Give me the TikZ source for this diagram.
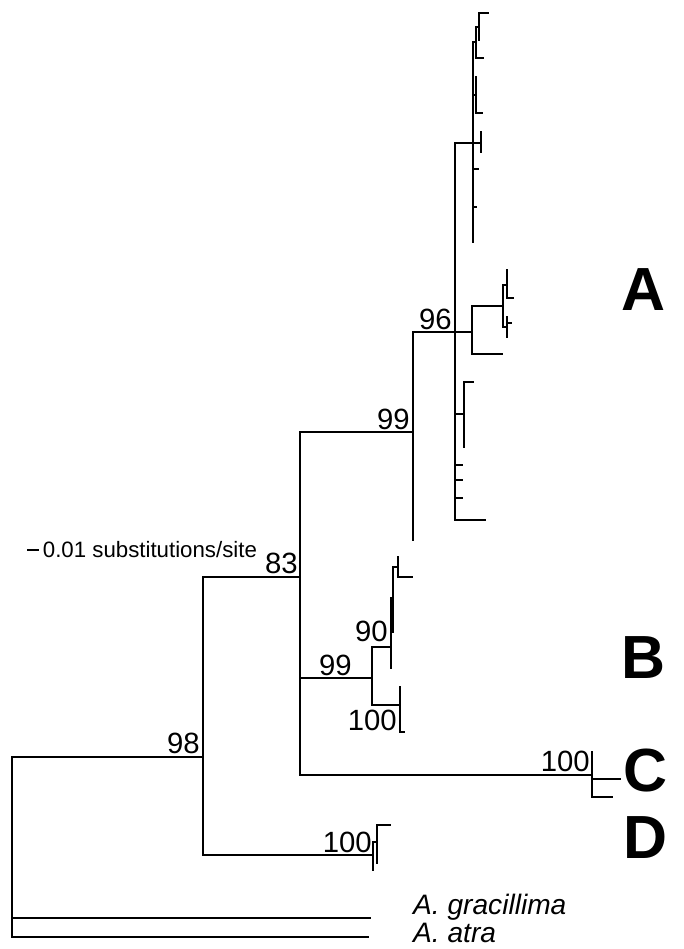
\documentclass[tikz,border=0pt]{standalone}
\usepackage{fontspec}
\setmainfont{Liberation Sans}
\usetikzlibrary{positioning}
\tikzstyle{branch} = [line width=0.9pt, line cap=rect]
\tikzstyle{support} = [inner sep=0pt, font=\fontsize{25}{25}\selectfont]
\tikzstyle{clade} = [inner sep=0pt, font=\fontsize{52}{52}\selectfont\bfseries]
\tikzstyle{taxon} = [inner sep=0pt, anchor=base west, font=\fontsize{24}{24}\selectfont\itshape]
\tikzstyle{scaletext} = [inner sep=0pt, anchor=west, font=\fontsize{19}{19}\selectfont]

\begin{document}
\begin{tikzpicture}[x=0.03cm, y=-0.03cm]
        \useasboundingbox (0,0) rectangle (684,949);
        % internal nodes
        \coordinate (root) at (12,757);
        \coordinate (n98) at (203,757);
        \coordinate (n83) at (300,577);
        \coordinate (nA) at (413,432);
        \coordinate (n96) at (455,332);
        \coordinate (nA1) at (473,143);
        \coordinate (nA1a) at (476,42);
        \coordinate (nA1b) at (479,27);
        \coordinate (nA1c) at (476,95);
        \coordinate (nA1d) at (481,143);
        \coordinate (nA2) at (472,332);
        \coordinate (nA2a) at (503,306);
        \coordinate (nA2b) at (507,285);
        \coordinate (nA2c) at (507,327);
        \coordinate (nA3) at (464,414);
        \coordinate (nB) at (372,678);
        \coordinate (n90) at (391,647);
        \coordinate (nB1) at (393,598);
        \coordinate (nB2) at (398,567);
        \coordinate (nB100) at (400,705);
        \coordinate (nC) at (592,775);
        \coordinate (nD) at (373,855);
        \coordinate (nD1) at (377,842);
        % leaves of clade A
        \coordinate (a1) at (488,13);
        \coordinate (a2) at (479,40);
        \coordinate (a3) at (483,58);
        \coordinate (a4) at (476,77);
        \coordinate (a5) at (482,113);
        \coordinate (a6) at (481,132);
        \coordinate (a7) at (481,152);
        \coordinate (a8) at (478,169);
        \coordinate (a9) at (476,207);
        \coordinate (a10) at (473,242);
        \coordinate (a11) at (507,270);
        \coordinate (a12) at (513,298);
        \coordinate (a13) at (507,317);
        \coordinate (a14) at (511,323);
        \coordinate (a15) at (507,337);
        \coordinate (a16) at (502,354);
        \coordinate (a17) at (473,382);
        \coordinate (a18) at (464,447);
        \coordinate (a19) at (462,465);
        \coordinate (a20) at (462,480);
        \coordinate (a21) at (462,498);
        \coordinate (a22) at (485,520);
        \coordinate (a23) at (413,540);
        % leaves of clades B, C, D
        \coordinate (b1) at (398,557);
        \coordinate (b2) at (412,577);
        \coordinate (b3) at (393,632);
        \coordinate (b4) at (391,668);
        \coordinate (b5) at (400,687);
        \coordinate (b6) at (404,732);
        \coordinate (c1) at (592,752);
        \coordinate (c2) at (620,779);
        \coordinate (c3) at (612,797);
        \coordinate (d1) at (390,825);
        \coordinate (d2) at (377,863);
        \coordinate (d3) at (373,870);
        % outgroups
        \coordinate (gra) at (370,918);
        \coordinate (atr) at (368,937);

        % branches
        \draw [branch] (root) |- (n98) (root) |- (gra) (root) |- (atr);
        \draw [branch] (n98) |- (n83) (n98) |- (nD);
        \draw [branch] (n83) |- (nA) (n83) |- (nB) (n83) |- (nC);
        \draw [branch] (nA) |- (n96) (nA) |- (a23);
        \draw [branch] (n96) |- (nA1) (n96) |- (nA2) (n96) |- (nA3);
        \draw [branch] (n96) |- (a19) (n96) |- (a20) (n96) |- (a21) (n96) |- (a22);
        \draw [branch] (nA1) |- (nA1a) (nA1) |- (nA1c) (nA1) |- (nA1d);
        \draw [branch] (nA1) |- (a8) (nA1) |- (a9) (nA1) |- (a10);
        \draw [branch] (nA1a) |- (nA1b) (nA1a) |- (a3);
        \draw [branch] (nA1b) |- (a1) (nA1b) |- (a2);
        \draw [branch] (nA1c) |- (a4) (nA1c) |- (a5);
        \draw [branch] (nA1d) |- (a6) (nA1d) |- (a7);
        \draw [branch] (nA2) |- (nA2a) (nA2) |- (a16);
        \draw [branch] (nA2a) |- (nA2b) (nA2a) |- (nA2c);
        \draw [branch] (nA2b) |- (a11) (nA2b) |- (a12);
        \draw [branch] (nA2c) |- (a13) (nA2c) |- (a14) (nA2c) |- (a15);
        \draw [branch] (nA3) |- (a17) (nA3) |- (a18);
        \draw [branch] (nB) |- (n90) (nB) |- (nB100);
        \draw [branch] (n90) |- (nB1) (n90) |- (b4);
        \draw [branch] (nB1) |- (nB2) (nB1) |- (b3);
        \draw [branch] (nB2) |- (b1) (nB2) |- (b2);
        \draw [branch] (nB100) |- (b5) (nB100) |- (b6);
        \draw [branch] (nC) |- (c1) (nC) |- (c2) (nC) |- (c3);
        \draw [branch] (nD) |- (nD1) (nD) |- (d3);
        \draw [branch] (nD1) |- (d1) (nD1) |- (d2);

        % bootstrap values
        \node (s98) [support, above left=0.1cm and 0.09cm of n98] {98};
        \node (s83) [support, above left=0.08cm and 0.06cm of n83] {83};
        \node (s99a) [support, above left=0.06cm and 0.09cm of nA] {99};
        \node (s96) [support, above left=0.06cm and 0.09cm of n96] {96};
        \node (s99b) [support, above left=0.06cm and 0.6cm of nB] {99};
        \node (s90) [support, above left=0.15cm and 0.09cm of n90] {90};
        \node (s100b) [support, below left=0.15cm and 0.09cm of nB100] {100};
        \node (s100c) [support, above left=0.08cm and 0.06cm of nC] {100};
        \node (s100d) [support, above left=0.06cm and 0.03cm of nD] {100};

        % clade letters
        \node (labA) [clade] at (643,290) {A};
        \node (labB) [clade] at (643,658) {B};
        \node (labC) [clade] at (645,771) {C};
        \node (labD) [clade] at (645,838) {D};

        % outgroup names
        \node (tgra) [taxon] at (413,914) {A. gracillima};
        \node (tatr) [taxon] at (413,942) {A. atra};

        % scale bar
        \coordinate (bar0) at (28,550);
        \coordinate (bar1) at (38,550);
        \draw [branch] (bar0) -- (bar1);
        \node (scale) [scaletext, right=0.14cm of bar1] {0.01 substitutions/site};
\end{tikzpicture}
\end{document}
